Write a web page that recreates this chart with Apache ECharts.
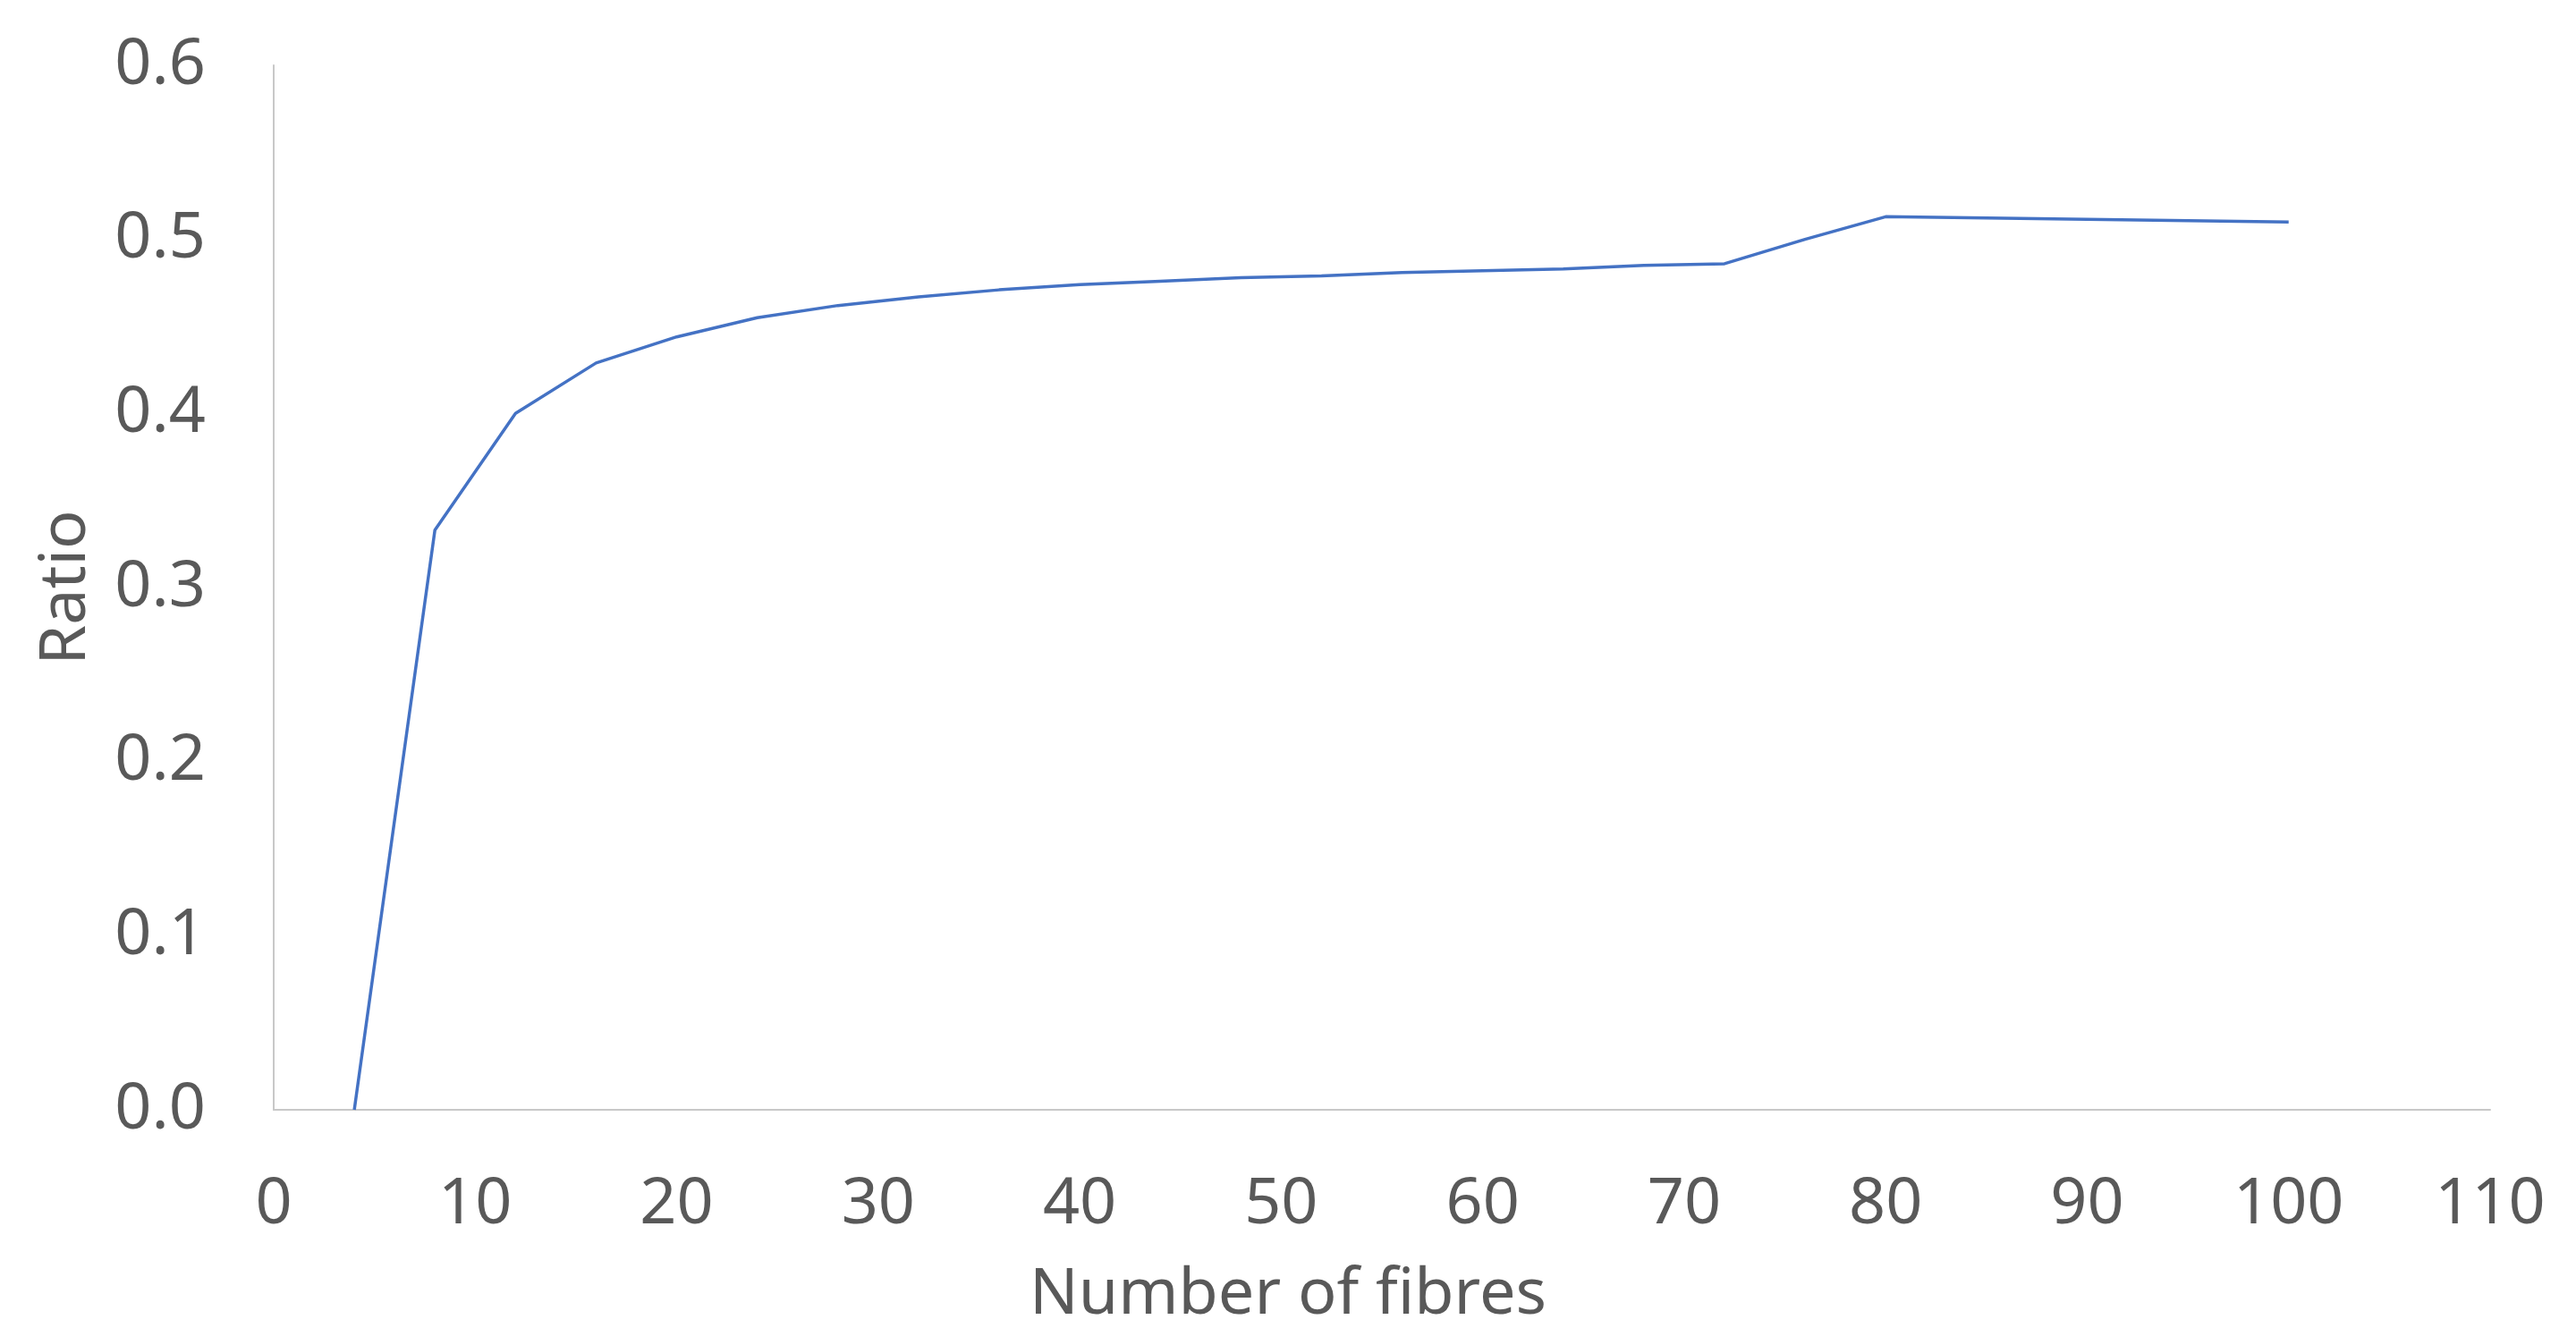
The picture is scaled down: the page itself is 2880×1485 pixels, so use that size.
<!DOCTYPE html>
<html>
<head>
<meta charset="utf-8">
<script src="https://cdn.jsdelivr.net/npm/echarts@6/dist/echarts.min.js"></script>
<style>
html,body{margin:0;padding:0;background:#fff;}
#chart{width:2880px;height:1485px;}
</style>
</head>
<body>
<div id="chart"></div>
<script>
var fibres = [4, 8, 12, 16, 20, 24, 28, 32, 36, 40, 44, 48, 52, 56, 60, 64, 68, 72, 76, 80, 100];
var ratio  = [0, 0.333, 0.400, 0.429, 0.444, 0.455, 0.462, 0.467, 0.471, 0.474, 0.476, 0.478, 0.479, 0.481, 0.482, 0.483, 0.485, 0.486, 0.500, 0.513, 0.510];
var xTitle = 'Number of fibres';
var yTitle = 'Ratio';

var FONT = '"Noto Sans", "Open Sans", sans-serif';
var TXT = '#595959';

var chart = echarts.init(document.getElementById('chart'), null, {renderer: 'canvas'});
var pts = fibres.map(function (f, i) { return [f, ratio[i]]; });

chart.setOption({
  animation: false,
  backgroundColor: '#ffffff',
  grid: {left: 306, right: 96, top: 73, bottom: 244, containLabel: false},
  xAxis: {
    type: 'value', min: 0, max: 110, interval: 10,
    axisLine: {show: true, onZero: false, lineStyle: {color: '#C8C8C8', width: 2}},
    axisTick: {show: false},
    splitLine: {show: false},
    axisLabel: {color: TXT, fontSize: 72, fontFamily: FONT, margin: 70}
  },
  yAxis: {
    type: 'value', min: 0, max: 0.6, interval: 0.1,
    name: yTitle, nameLocation: 'middle', nameGap: 196, nameRotate: 90,
    nameTextStyle: {color: TXT, fontSize: 72, fontFamily: FONT},
    axisLine: {show: true, lineStyle: {color: '#C8C8C8', width: 2}},
    axisTick: {show: false},
    splitLine: {show: false},
    axisLabel: {color: TXT, fontSize: 72, fontFamily: FONT, margin: 76,
      formatter: function (v) { return v.toFixed(1); }}
  },
  graphic: [{
    type: 'text', left: 'center', top: 1412,
    style: {text: xTitle, fill: TXT, fontSize: 72, fontFamily: FONT}
  }],
  series: [{
    type: 'line', data: pts, showSymbol: false, symbol: 'none',
    lineStyle: {color: '#4472C4', width: 3.5}, itemStyle: {color: '#4472C4'}
  }]
});
</script>
</body>
</html>
